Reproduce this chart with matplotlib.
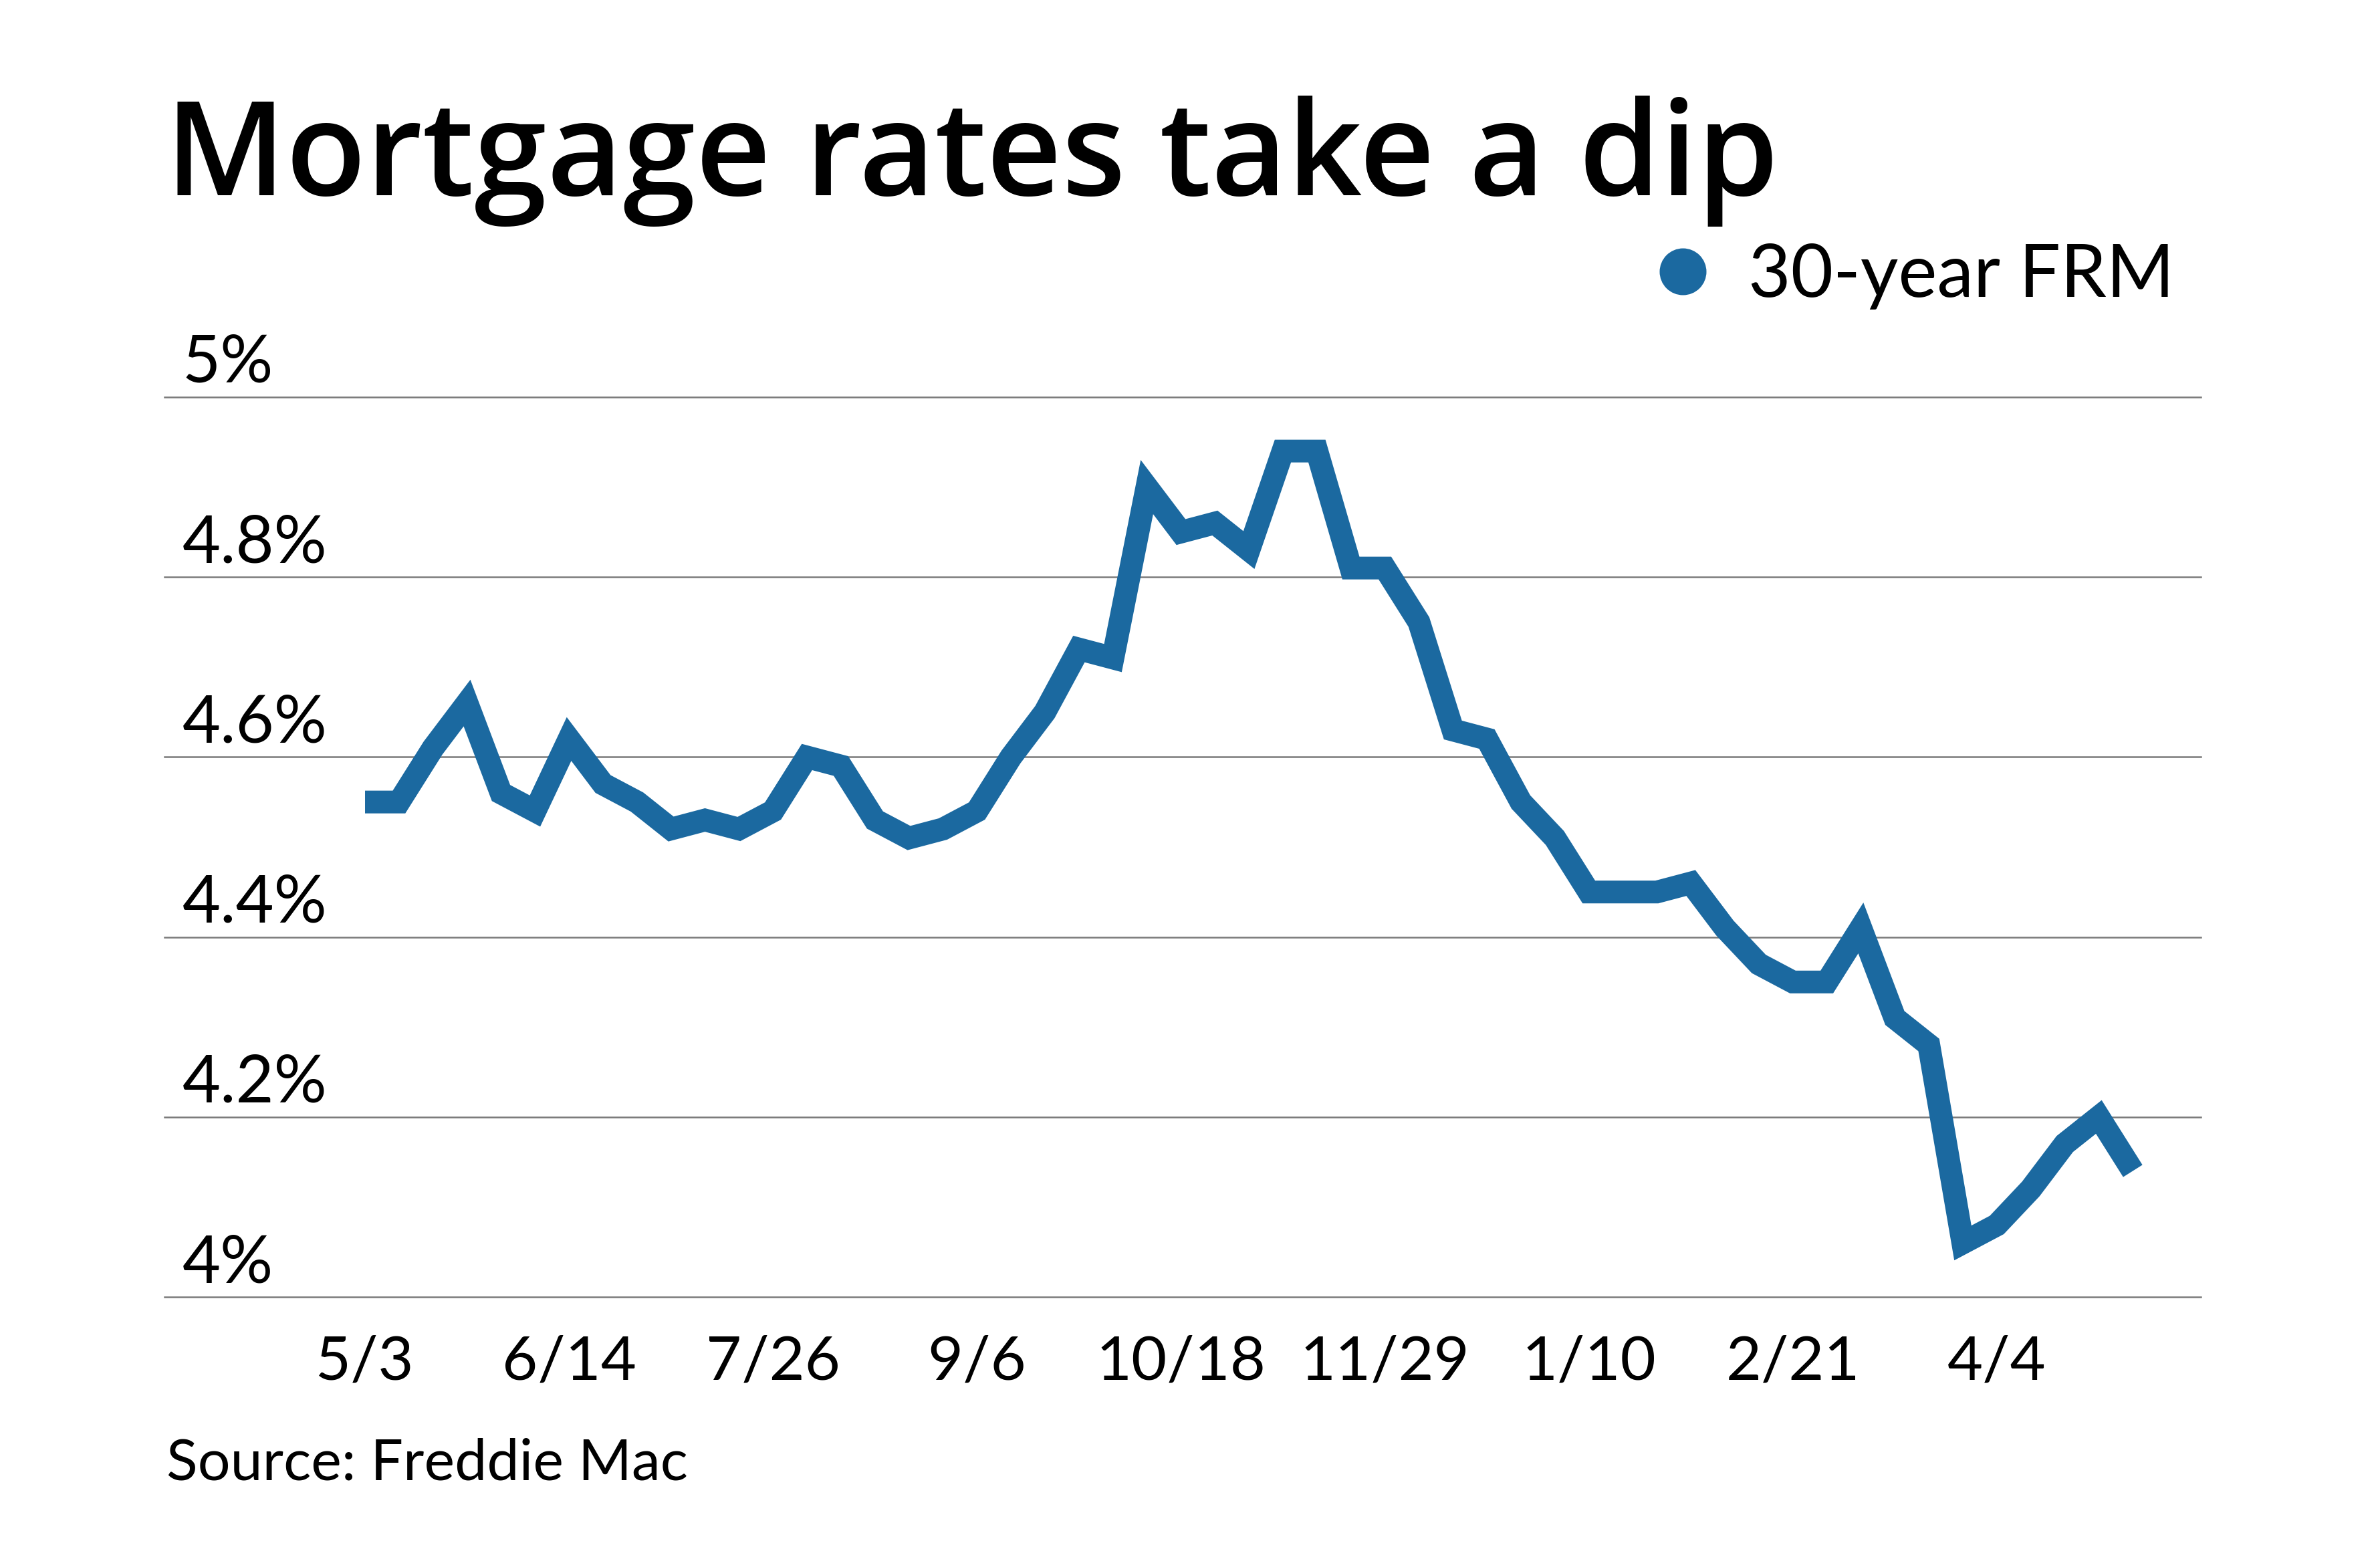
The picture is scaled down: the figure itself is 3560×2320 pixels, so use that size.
import numpy as np
import matplotlib
matplotlib.use('Agg')
import matplotlib.pyplot as plt
from matplotlib.lines import Line2D
from matplotlib.transforms import offset_copy

# Freddie Mac 30-year FRM, weekly
weeks = ['5/3', '5/10', '5/17', '5/24', '5/31', '6/7', '6/14', '6/21', '6/28',
         '7/5', '7/12', '7/19', '7/26', '8/2', '8/9', '8/16', '8/23', '8/30',
         '9/6', '9/13', '9/20', '9/27', '10/4', '10/11', '10/18', '10/25', '11/1',
         '11/8', '11/15', '11/21', '11/29', '12/6', '12/13', '12/20', '12/27',
         '1/3', '1/10', '1/17', '1/24', '1/31', '2/7', '2/14', '2/21', '2/28',
         '3/7', '3/14', '3/21', '3/28', '4/4', '4/11', '4/18', '4/25', '5/2']
rates = [4.55, 4.55, 4.61, 4.66, 4.56, 4.54, 4.62, 4.57, 4.55,
         4.52, 4.53, 4.52, 4.54, 4.60, 4.59, 4.53, 4.51, 4.52,
         4.54, 4.60, 4.65, 4.72, 4.71, 4.90, 4.85, 4.86, 4.83,
         4.94, 4.94, 4.81, 4.81, 4.75, 4.63, 4.62, 4.55,
         4.51, 4.45, 4.45, 4.45, 4.46, 4.41, 4.37, 4.35, 4.35,
         4.41, 4.31, 4.28, 4.06, 4.08, 4.12, 4.17, 4.20, 4.14]
tick_labels = ['5/3', '6/14', '7/26', '9/6', '10/18', '11/29', '1/10', '2/21', '4/4']
y_ticks = [4.0, 4.2, 4.4, 4.6, 4.8, 5.0]
y_labels = ['4%', '4.2%', '4.4%', '4.6%', '4.8%', '5%']

BLUE = '#1b69a0'
GRID = '#7a7a7a'


def main():
    plt.rcParams['font.family'] = ['Lato', 'DejaVu Sans']

    fig = plt.figure(figsize=(35.6, 23.2), dpi=100)
    fig.patch.set_facecolor('white')
    ax = fig.add_axes([0.0691, 0.1638, 0.8556, 0.5802])

    x = np.arange(len(rates))
    ax.plot(x, rates, color=BLUE, lw=24.5, solid_joinstyle='miter',
            solid_capstyle='butt', zorder=3, clip_on=False)

    ax.set_xlim(-5.9, 54.0)
    ax.set_ylim(4, 5)

    for s in ax.spines.values():
        s.set_visible(False)

    # horizontal rules with the labels sitting above them
    lab_tr = offset_copy(ax.get_yaxis_transform(), fig=fig, x=19.4, y=15.8, units='points')
    for v, lab in zip(y_ticks, y_labels):
        ax.axhline(v, color=GRID, lw=1.8, zorder=1, clip_on=False)
        ax.text(0, v, lab, transform=lab_tr, ha='left', va='baseline',
                fontsize=71, color='black')
    ax.set_yticks([])

    ax.set_xticks([weeks.index(t) for t in tick_labels])
    ax.set_xticklabels(tick_labels, fontsize=66)
    ax.tick_params(axis='x', length=0, pad=88.6)
    for t in ax.get_xticklabels():
        t.set_va('baseline')

    fig.text(0.0695, 0.8741, 'Mortgage rates take a dip', fontsize=141,
             family=['Open Sans', 'DejaVu Sans'], weight='semibold',
             ha='left', va='baseline')

    handle = Line2D([], [], ls='none', marker='o', markersize=50.4,
                    markerfacecolor=BLUE, markeredgewidth=0)
    fig.legend([handle], ['30-year FRM'], loc='center right',
               bbox_to_anchor=(0.9135, 0.822), frameon=False,
               handlelength=0.65, handletextpad=0.56, borderpad=0,
               borderaxespad=0, prop={'size': 79})

    fig.text(0.07, 0.0457, 'Source: Freddie Mac', fontsize=62,
             ha='left', va='baseline')

    fig.savefig('out.png', dpi=100)
    plt.close(fig)


if __name__ == '__main__':
    main()
